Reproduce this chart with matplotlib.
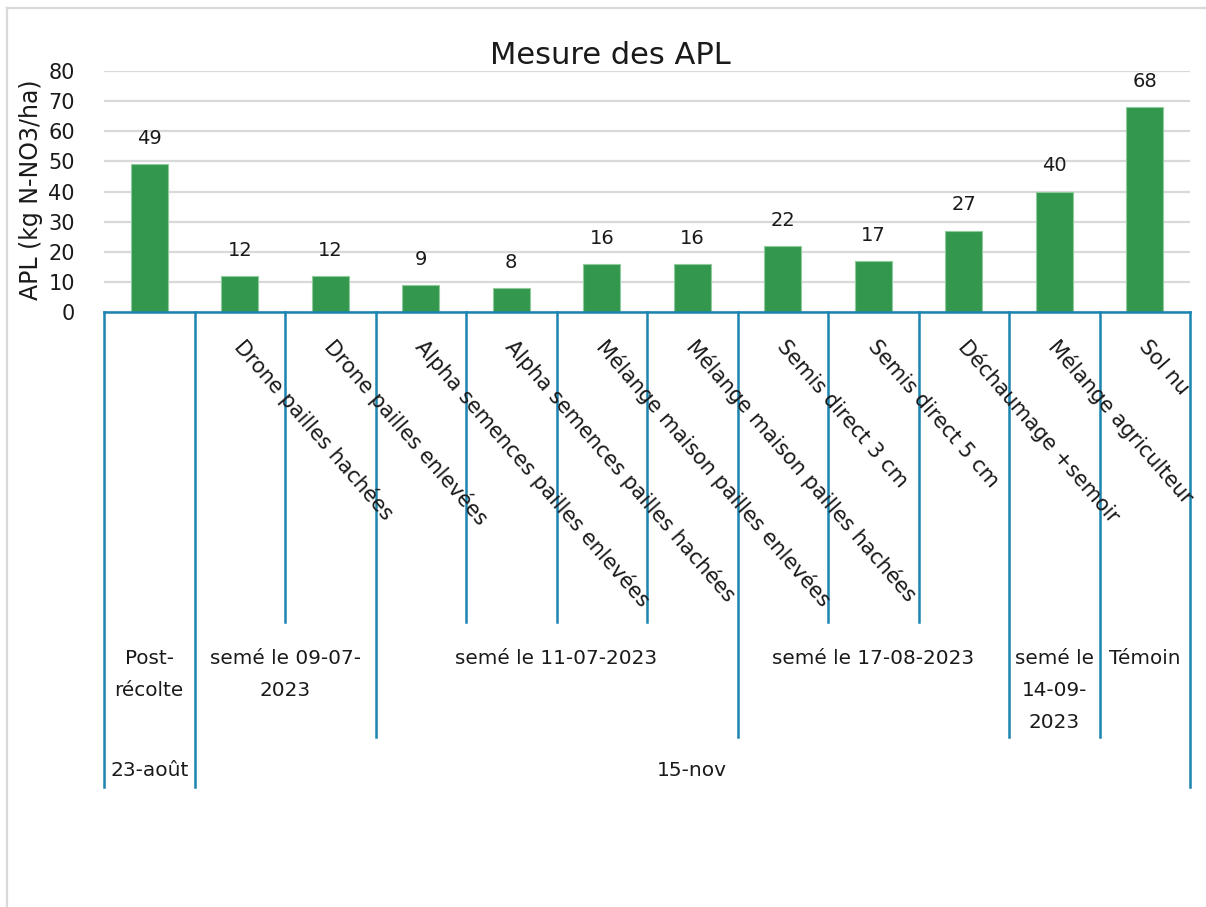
import matplotlib
matplotlib.use("Agg")
import matplotlib.pyplot as plt
from matplotlib.transforms import blended_transform_factory
from matplotlib.lines import Line2D

# Data
treatments = ["", "Drone pailles hachées", "Drone pailles enlevées",
              "Alpha semences pailles enlevées", "Alpha semences pailles hachées",
              "Mélange maison pailles enlevées", "Mélange maison pailles hachées",
              "Semis direct 3 cm", "Semis direct 5 cm", "Déchaumage +semoir",
              "Mélange agriculteur", "Sol nu"]
apl_values = [49, 12, 12, 9, 8, 16, 16, 22, 17, 27, 40, 68]

# Second level: sowing groups (label, number of categories)
sowing_groups = [("Post-\nrécolte", 1), ("semé le 09-07-\n2023", 2),
                 ("semé le 11-07-2023", 4), ("semé le 17-08-2023", 3),
                 ("semé le\n14-09-\n2023", 1), ("Témoin", 1)]
# Third level: sampling dates
date_groups = [("23-août", 1), ("15-nov", 11)]

y_ticks = [0, 10, 20, 30, 40, 50, 60, 70, 80]

W, H = 1206, 907
plt.rcParams["font.family"] = ["DejaVu Sans"]

BAR = "#33974E"
AXC = "#1B84B1"
GRID = "#D9D9D9"
TXT = "#1a1a1a"

fig = plt.figure(figsize=(W / 100, H / 100), dpi=100)

def fy(py):
    return 1 - py / H

ax_left, ax_right = 104, 1190
ax_top, ax_bot = 71, 312
ax = fig.add_axes([ax_left / W, fy(ax_bot), (ax_right - ax_left) / W, (ax_bot - ax_top) / H])

n = len(apl_values)
x = list(range(n))
ax.bar(x, apl_values, width=0.41, color=BAR, edgecolor="#8FCB9B", linewidth=0.8, zorder=3)
for xi, v in zip(x, apl_values):
    ax.annotate(f"{v}", (xi, v), xytext=(0, 18.5), textcoords="offset points",
                ha="center", va="center", fontsize=14, color=TXT)

ax.set_xlim(-0.5, n - 0.5)
ax.set_ylim(0, 80)
ax.set_yticks(y_ticks)
ax.tick_params(axis="y", length=0, labelsize=15, pad=21, labelcolor=TXT)
ax.set_xticks([])
ax.yaxis.grid(True, color=GRID, linewidth=1.6, zorder=0)
for s in ["top", "right", "left"]:
    ax.spines[s].set_visible(False)
ax.spines["bottom"].set_color(AXC)
ax.spines["bottom"].set_linewidth(1.8)
ax.spines["bottom"].set_zorder(4)

fig.text(31 / W, fy(190), "APL (kg N-NO3/ha)", rotation=90, ha="center", va="center",
         fontsize=17, color=TXT)
fig.text(610 / W, fy(55), "Mesure des APL", ha="center", va="center",
         fontsize=22, color=TXT)

trans = blended_transform_factory(ax.transData, fig.transFigure)

def vline(xd, y_end_px):
    fig.add_artist(Line2D([xd, xd], [fy(ax_bot), fy(y_end_px)], transform=trans,
                          color=AXC, linewidth=1.8, clip_on=False))

# Category separators and boundaries of each level
sow_edges = [-0.5]
for _, k in sowing_groups:
    sow_edges.append(sow_edges[-1] + k)
date_edges = [-0.5]
for _, k in date_groups:
    date_edges.append(date_edges[-1] + k)

for i in range(n + 1):
    xd = i - 0.5
    if xd in date_edges:
        vline(xd, 787)
    elif xd in sow_edges:
        vline(xd, 737)
    else:
        vline(xd, 622)

# Rotated treatment labels
for xi, lab in zip(x, treatments):
    if lab:
        t = fig.text(0, 0, lab, rotation=-49, rotation_mode="anchor",
                     ha="left", va="center", fontsize=15, color=TXT)
        t.set_transform(trans)
        t.set_position((xi - 0.02, fy(343)))

# Sowing group labels
for (lab, k), e0 in zip(sowing_groups, sow_edges[:-1]):
    t = fig.text(0, 0, lab, ha="center", va="top", fontsize=14.4,
                 linespacing=1.88, color=TXT, multialignment="center")
    t.set_transform(trans)
    t.set_position((e0 + k / 2, fy(649)))

# Date labels
for (lab, k), e0 in zip(date_groups, date_edges[:-1]):
    t = fig.text(0, 0, lab, ha="center", va="center", fontsize=14.5, color=TXT)
    t.set_transform(trans)
    t.set_position((e0 + k / 2, fy(771)))

# Chart area border (top and left edges)
fig.add_artist(Line2D([7 / W, 7 / W], [fy(8), 0], transform=fig.transFigure,
                      color=GRID, linewidth=1.6))
fig.add_artist(Line2D([7 / W, 1], [fy(8), fy(8)], transform=fig.transFigure,
                      color=GRID, linewidth=1.6))

fig.savefig("out.png", dpi=100, facecolor="white")
